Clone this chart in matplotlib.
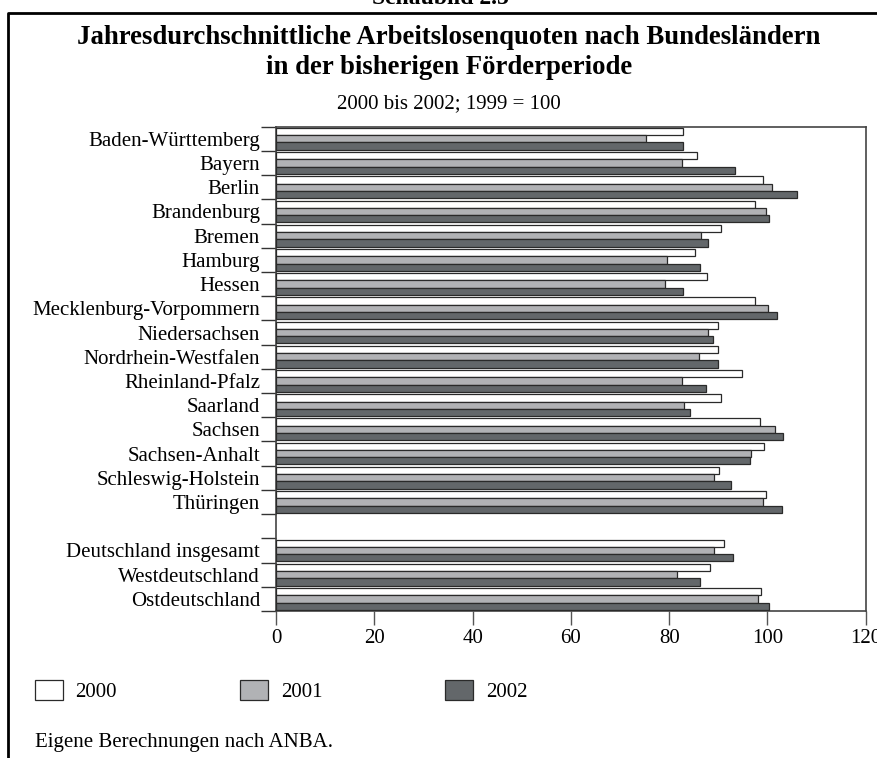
import matplotlib
matplotlib.use("Agg")
import matplotlib.pyplot as plt
from matplotlib.lines import Line2D
import numpy as np

plt.rcParams['font.family'] = ['Liberation Serif', 'DejaVu Serif']

categories = ["Baden-Württemberg", "Bayern", "Berlin", "Brandenburg", "Bremen",
              "Hamburg", "Hessen", "Mecklenburg-Vorpommern", "Niedersachsen",
              "Nordrhein-Westfalen", "Rheinland-Pfalz", "Saarland", "Sachsen",
              "Sachsen-Anhalt", "Schleswig-Holstein", "Thüringen",
              "Deutschland insgesamt", "Westdeutschland", "Ostdeutschland"]
v2000 = [82.9, 85.6, 99.1, 97.5, 90.6, 85.3, 87.7, 97.5, 90.0, 90.0, 94.8, 90.5,
         98.5, 99.3, 90.2, 99.7, 91.1, 88.4, 98.6]
v2001 = [75.3, 82.6, 101.0, 99.7, 86.5, 79.6, 79.2, 100.2, 88.0, 86.1, 82.7, 83.1,
         101.5, 96.7, 89.2, 99.1, 89.2, 81.5, 98.0]
v2002 = [82.9, 93.5, 106.0, 100.4, 87.9, 86.3, 82.9, 101.9, 89.0, 90.0, 87.6, 84.2,
         103.2, 96.4, 92.5, 102.9, 93.0, 86.2, 100.4]
years = ["2000", "2001", "2002"]
colors = ["#ffffff", "#b1b2b5", "#63676a"]
xticks = [0, 20, 40, 60, 80, 100, 120]

W, H = 878, 758
fig = plt.figure(figsize=(W / 100, H / 100), dpi=100)
ax = fig.add_axes([276 / W, 1 - 611 / H, 589.7 / W, 484.3 / H])

# positions: 16 Länder, one empty slot, 3 aggregates
pos = np.array(list(range(16)) + [17, 18, 19], dtype=float)
bh = 0.3
handles = []
for k, (vals, c, lab) in enumerate(zip([v2000, v2001, v2002], colors, years)):
    b = ax.barh(pos + (k - 1) * bh, vals, height=bh, color=c,
                edgecolor="#2a2a2a", linewidth=0.9, label=lab, zorder=3)
    handles.append(b)

ax.set_xlim(0, 120)
ax.set_ylim(19.5, -0.5)
ax.set_xticks(xticks)
ax.set_xticklabels([str(t) for t in xticks], fontsize=15)
ax.set_yticks(np.arange(-0.5, 20, 1.0))
ax.set_yticklabels([])
ax.set_yticks(pos, minor=True)
ax.set_yticklabels(categories, minor=True, fontsize=15)
ax.tick_params(axis='y', which='major', length=10.8, width=1.0, color="#333333")
ax.tick_params(axis='y', which='minor', length=0, pad=11.5)
ax.tick_params(axis='x', which='major', length=10, width=1.0, color="#555555", pad=3)
for s in ax.spines.values():
    s.set_color("#444444")
    s.set_linewidth(1.2)

# Titles
fig.text(440 / W, 1 - 4 / H, "Schaubild 2.5", ha='center', va='baseline',
         fontsize=17, fontweight='bold')
fig.text(449 / W, 1 - 38 / H, "Jahresdurchschnittliche Arbeitslosenquoten nach Bundesländern",
         ha='center', va='center', fontsize=19.3, fontweight='bold')
fig.text(449 / W, 1 - 67 / H, "in der bisherigen Förderperiode",
         ha='center', va='center', fontsize=19.3, fontweight='bold')
fig.text(449 / W, 1 - 104 / H, "2000 bis 2002; 1999 = 100",
         ha='center', va='center', fontsize=15)

# Legend
fig.legend(handles, years, ncol=3, loc='center left',
           bbox_to_anchor=(35 / W, 1 - 691 / H), frameon=False,
           borderpad=0, borderaxespad=0, handlelength=1.35, handleheight=1.06,
           handletextpad=0.6, columnspacing=5.9, fontsize=15)

fig.text(35 / W, 1 - 743 / H, "Eigene Berechnungen nach ANBA.",
         ha='left', va='center', fontsize=15)

# Outer frame
fig.add_artist(Line2D([8 / W, 8 / W, 1.02], [-0.02, 1 - 13 / H, 1 - 13 / H],
                      transform=fig.transFigure, color="black", linewidth=2.0))

fig.savefig("out.png", dpi=100, facecolor="white")
